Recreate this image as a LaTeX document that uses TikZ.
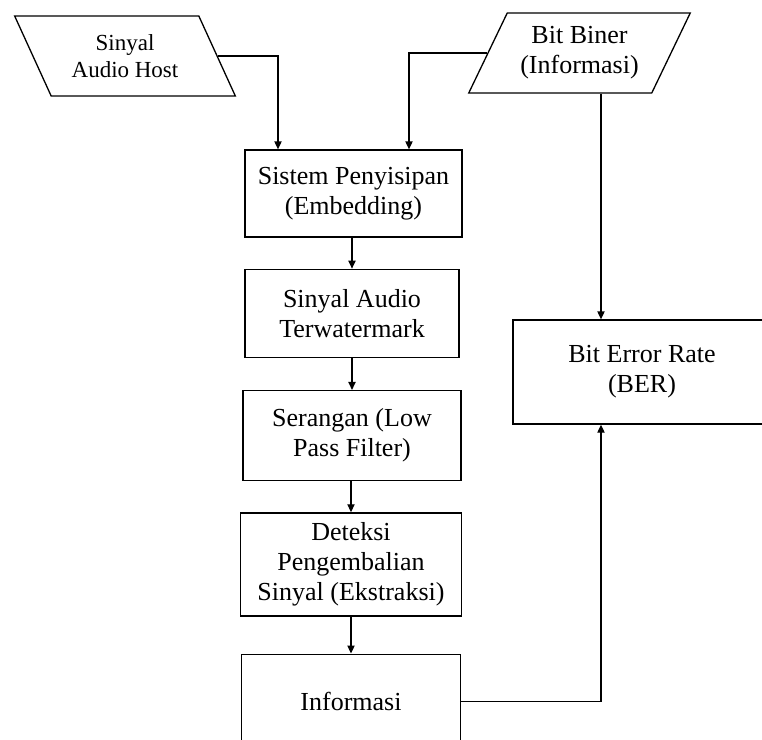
\documentclass[tikz,border=0pt]{standalone}
\usepackage{fontspec}
\setmainfont{Liberation Serif}
\usepackage{tikz}
\usetikzlibrary{arrows.meta, positioning, shapes.geometric}
\tikzset{
  pbox/.style={draw=black, fill=white, align=center, inner sep=2pt,
    font=\fontsize{13}{15}\selectfont, line width=0.65pt},
  iobox/.style={trapezium, trapezium stretches=true, draw=black, fill=white, align=center,
    inner sep=2pt, minimum height=40pt, minimum width=111pt,
    font=\fontsize{13}{15}\selectfont, line width=0.65pt},
  flow/.style={-{Triangle[length=4pt, width=3.6pt]}, draw=black, line width=0.65pt},
  link/.style={draw=black, line width=0.65pt}
}
\begin{document}
\begin{tikzpicture}[x=0.5pt, y=-0.5pt, node distance=15.5pt]
\useasboundingbox (0,0) rectangle (762,740);
\clip (0,0) rectangle (762,740);
\node[iobox, trapezium left angle=119, trapezium right angle=61, font=\fontsize{11.5}{13.5}\selectfont] (host) at (125,56) {Sinyal\\Audio Host};
\node[iobox, trapezium left angle=61, trapezium right angle=119] (bits) at (579.5,53) {Bit Biner\\(Informasi)};
\node[pbox, minimum width=108.5pt, minimum height=43.5pt] (emb) at (353.5,193.5) {Sistem Penyisipan\\(Embedding)};
\node[pbox, minimum width=107pt, minimum height=44pt, below=of emb, xshift=-0.75pt] (wm) {Sinyal Audio\\Terwatermark};
\node[pbox, minimum width=109pt, minimum height=45pt, below=16pt of wm] (atk) {Serangan (Low\\Pass Filter)};
\node[pbox, minimum width=110.5pt, minimum height=51.5pt, below=of atk, xshift=-0.5pt] (det) {Deteksi\\Pengembalian\\Sinyal (Ekstraksi)};
\node[pbox, minimum width=109.5pt, minimum height=47pt, below=18.5pt of det] (info) {Informasi};
\node[pbox, minimum width=129pt, minimum height=52pt] (ber) at (642,372) {Bit Error Rate\\(BER)};
% turning points
\coordinate (xl) at (278,0);
\coordinate (xm) at (409,0);
\coordinate (xr) at (601,0);
\draw[flow] (host.east) -| (emb.north -| xl);
\draw[flow] (bits.west) -| (emb.north -| xm);
\draw[flow] (wm.north |- emb.south) -- (wm.north);
\draw[flow] (atk.north |- wm.south) -- (atk.north);
\draw[flow] (det.north |- atk.south) -- (det.north);
\draw[flow] (info.north |- det.south) -- (info.north);
\draw[flow] (bits.south -| xr) -- (ber.north -| xr);
\draw[flow] (info.east) -| (ber.south -| xr);
\end{tikzpicture}
\end{document}
